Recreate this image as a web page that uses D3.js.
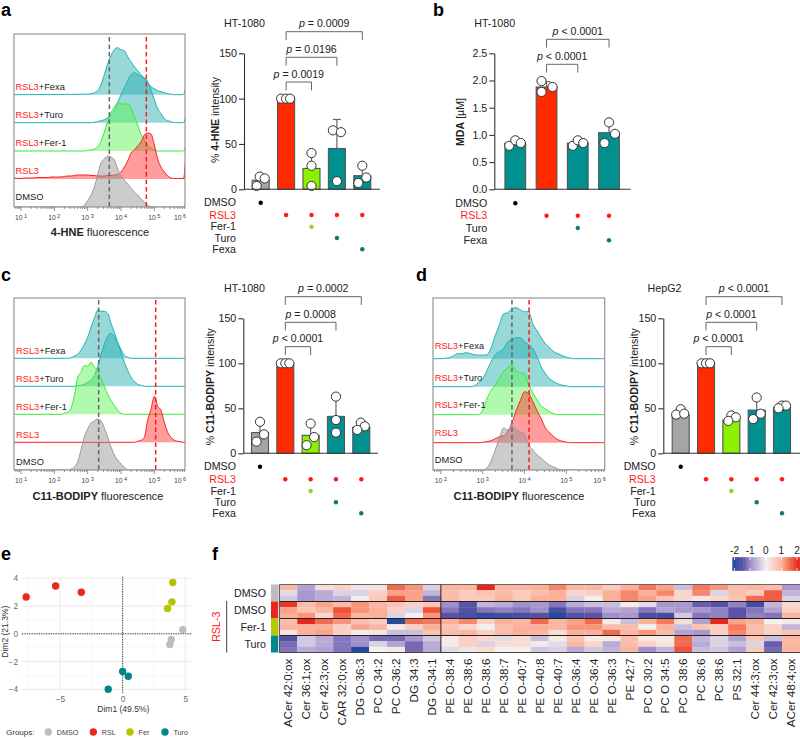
<!DOCTYPE html>
<html><head><meta charset="utf-8">
<script src="https://cdn.jsdelivr.net/npm/d3@7"></script>
<style>body{margin:0;background:#fff}svg{display:block;font-family:"Liberation Sans",Arial,sans-serif}</style>
</head><body><svg id="c" width="800" height="738"></svg>
<script>
// ---------- DATA ----------
const histNames=["RSL3+Fexa","RSL3+Turo","RSL3+Fer-1","RSL3","DMSO"];
// histogram heights (px-like counts) on a 0.1 log10 grid: [start log10, values]
const hneFexa=[3.0,[.5,1,2,4,10,20,31,39,45,47,45,44,38,33,28,24,20,16,12,8,6,4,3,2,1,.5,0]];
const hneTuro=[3.1,[0,.5,1,2,3,5,8,12,20,28,35,42,48,50,48,47,45,41,33,23,14,9,4,2,1,0]];
const hneFer=[2.9,[0,.5,1,2,4,10,19,30,38,44,48,47,47,47,43,34,26,17,11,6,3,1,0]];
const hneRsl=[0.8,[1,.5,.5,1,1,1,1,1.5,1.5,1.5,1.5,2,2,2,2,2.5,3,3,3.5,4,4,4,4,3.5,3.5,3,3,3,3.5,3.5,4,4.5,7,12,18,26,29,33,37,44,46,45,34,20,12,7,3,1,.5,.5,.5,1]];
const hneDmso=[2.8,[0,2,6,12,20,32,44,48,51,50,47,38,31,27,23,19,15,12,8,5,2,0]];
const hneSpike=[5,5,4,17,2];
const c11Fexa=[2.4,[0,.5,2,4,8,14,21,31,40,48,47,47,45,35,26,16,9,3,1,0]];
const c11Turo=[2.6,[0,.5,1,2,4,6,11,20,31,42,50,53,50,43,34,24,16,9,5,2,1,0]];
const c11Fer=[2.2,[0,1,2,6,18,37,42,49,48,52,47,44,36,28,20,14,9,4,1,0]];
const c11Rsl=[4.4,[0,1,2,5,22,33,46,36,32,20,10,5,2,1,.5,0]];
const c11Dmso=[2.4,[0,1,3,8,20,33,41,47,49,51,49,42,33,23,15,10,6,3,0]];
const hepFexa=[2.0,[0,.5,1,3,5,5,6,5,4,3.5,3.5,4,11,23,34,45,46,50,51,49,47,47,35,28,21,15,11,7,5,3,1.5,.5,0]];
const hepTuro=[2.7,[0,1,4,8,16,25,32,35,38,45,47,49,49,45,42,38,30,20,13,8,5,3,1.5,1,0]];
const hepFer=[2.9,[0,5,16,24,30,37,43,47,50,44,42,41,30,22,15,9,6,3,1,0]];
const hepRsl=[2.9,[0,.5,1,2,4,6,7,11,20,32,42,51,49,41,32,24,15,10,6,3,1.5,.5,0]];
const hepDmso=[3.0,[0,2,9,20,32,42,40,44,40,38,36,25,20,15,12,8,5,3,1,0]];
const markers={hne:[3.65,4.76],c11:[3.33,5.04],hep:[3.70,4.11]};

const barCats=["DMSO","RSL3","Fer-1","Turo","Fexa"];
const mdaCats=["DMSO","RSL3","Turo","Fexa"];
const hneMeans=[10,100,23,45,15];
const hneDots=[[3.7,14,12],[100,100,100],[40,26,3.7],[65,63,9],[26,13,7]];
const hneSd=[5.6,0,18,32,10];
const hnePvals=["= 0.0009","= 0.0196","= 0.0019"];
const mdaMeans=[.85,1.88,.85,1.04];
const mdaDots=[[.8,.9,.85],[1.99,1.88,1.79],[.8,.9,.85],[1.23,1.02,.85]];
const mdaSd=[.05,.1,.05,.19];
const mdaPvals=["< 0.0001","< 0.0001"];
const c11Means=[23,100,20,41,29];
const c11DotsVals=[[35,21,13],[100,100,100],[33,18,9],[63,37,23],[34,30,26]];
const c11Sd=[11,0,12,21,4];
const c11Pvals=["= 0.0002","= 0.0008","< 0.0001"];
const hepMeans=[43,100,37,48,51];
const hepDots=[[49,43,44],[100,100,100],[42,40,36],[62,44,38],[53,53,50]];
const hepSd=[3,0,3,13,2];
const hepPvals=["< 0.0001","< 0.0001","< 0.0001"];
// which row of the treatment matrix is filled for each bar
const hneRows=[[0],[1],[1,2],[1,3],[1,4]];
const mdaRows=[[0],[1],[1,2],[1,3]];

const pcaGroups=["DMSO","RSL","Fer","Turo"];
const pcaX=[[4.8,3.88,3.77],[-7.7,-5.35,-3.3],[4.0,3.93,3.58],[0,.45,-1.15]];
const pcaY=[[.3,-.4,-.77],[2.65,3.45,3.0],[3.7,2.3,1.83],[-2.72,-3.06,-4.0]];

const heatRows=["DMSO","DMSO","Fer-1","Turo"];
const lipids=["ACer 42:0;ox","Cer 36:1;ox","Cer 42:3;ox","CAR 32:0;ox","DG O-36:3","PC O 34:2","PC O-36:2","DG 34:3","DG O-34:1","PE O-38:4","PE O-38:6","PE O-38:6","PE O-38:7","PE O-40:7","PE O-40:8","PE O-40:7","PE O-36:4","PE O-36:4","PE O-36:3","PE 42:7","PC O 30:2","PC O 34:5","PC O 38:6","PC 36:6","PC 38:6","PS 32:1","Cer 44:3;ox","Cer 42:3;ox","ACer 48:4;ox"];
// one list per lipid, 12 replicates (3 per group)
const heatCols=[
[.9,-.2,-.4,1.9,1.1,1.0,.8,.9,.2,-1.6,-1.3,-1.2],
[-.8,-.9,-.9,.8,.7,1.2,2.0,1.0,1.0,-.4,-.4,-.7],
[.3,-.7,-.7,1.1,.9,.4,1.5,1.0,1.1,-.7,-.7,-.8],
[.5,-.3,-.6,.8,1.7,1.5,1.2,.5,.5,-1.2,-1.2,-1.2],
[-.1,-.3,-.05,1.2,1.2,.9,.8,1.1,-.05,-1,-1,-2],
[.2,.5,.6,.9,1.0,1.0,.6,.9,.2,-1.3,-.3,0],
[1.5,1.1,1.6,.7,.5,-.3,-2,.1,-.5,-1.3,-.8,.1],
[1.2,1.1,1.1,.5,-.3,0,1.5,.5,-.5,-.9,-1.3,-1.3],
[-.3,-.6,-1.2,.7,1.7,1.2,1.4,1.0,.7,-.4,-.7,-.7],
[.9,.8,.8,-1,-1.2,-1.5,1.0,.7,.8,.1,.1,-.2],
[.9,.6,.6,-1.5,-1.6,-1.7,1.3,.4,.9,.5,.5,-.1],
[2.0,.7,.6,-.6,-1.2,-1.9,.5,-.02,.5,.4,-.3,.3],
[.9,.8,.9,-.7,-1.1,-1.8,1.0,.8,.8,-.2,.3,0],
[.9,.6,.6,-1.0,-1.2,-1.7,.9,1.0,1.0,.3,.3,0],
[1.0,.8,1.0,-.9,-1.0,-1.6,1.5,1.0,.9,-.5,-.05,-.4],
[1.3,1.0,1.0,-1.2,-1.7,-2,.9,.9,.3,.1,-.2,-.3],
[.9,.4,-.3,-.7,-1.2,-1.6,1.1,1.2,1.0,.7,.9,-.7],
[.9,.5,0,-.5,-1.2,-1.5,1.5,1.2,1.0,.1,.4,-.4],
[.6,1.0,1.0,-.5,-.7,-1.0,.1,.8,1.5,.1,-.7,-.6],
[1.0,1.3,1.3,.1,-.8,-.9,-.5,.8,.9,.8,.8,.9],
[1.4,1.0,1.1,-.2,-1.2,-1.7,1.0,.05,1.2,.1,.5,-1.0],
[1.1,1.3,.7,-.9,-.8,-1.8,1.4,1.0,.8,.1,.2,-.6],
[-.5,.4,.4,-.9,-.9,-.4,.3,-.5,-.8,1.5,1.5,1.7],
[1.4,1.3,.1,-1.4,-.9,-1.2,-.8,.7,-.9,-.6,-.7,-.5],
[1.2,-.3,.4,-1.6,-1.1,-1.1,2.0,.5,.5,-.3,-.3,-.4],
[.8,.8,.7,-1.1,-1.5,-1.5,1.1,1.4,1.3,-.8,-.5,-.8],
[.9,.6,1.5,-1.8,-1.2,-1.1,1.0,.8,.8,.7,-.3,.6],
[.8,1.6,1.6,-.6,-.8,-1.2,0,.5,.5,-.5,-1.4,-1.3],
[-.9,-.6,-.3,.4,.5,.9,.1,-.6,.7,.9,.9,.9]];
const legendTicks=[-2,-1,0,1,2];

// ---------- STYLE / LAYOUT ----------
const svg=d3.select("#c");
const INK="#222";
const histStroke={Fexa:"#1fb2b6",Turo:"#1fb2b6",Fer:"#38ea3c",Rsl:"#ff1f1f",Dmso:"#9a9a9a"};
const histFill={Fexa:"#27adad",Turo:"#27adad",Fer:"#5cf252",Rsl:"#ff3030",Dmso:"#949494"};
const histKeys=["Fexa","Turo","Fer","Rsl","Dmso"];
const barFill={DMSO:"#a5a5a5",RSL3:"#ff2a00","Fer-1":"#8cf000",Turo:"#009090",Fexa:"#009090"};
const dotFill={DMSO:"#000",RSL3:"#ff1a1a","Fer-1":"#97cf35",Turo:"#0b7a7a",Fexa:"#0b7a7a"};

function txt(x,y,parts,o={}){
  const t=svg.append("text").attr("x",x).attr("y",y).attr("dy","0.35em")
    .attr("font-size",o.size||10.7).attr("fill",o.fill||INK).attr("text-anchor",o.anchor||"start");
  if(o.rot!=null)t.attr("transform",`rotate(${o.rot} ${x} ${y})`);
  (Array.isArray(parts)?parts:[parts]).forEach(p=>{
    if(typeof p==="string")t.append("tspan").text(p);
    else t.append("tspan").text(p.t).attr("fill",p.fill||null).attr("font-weight",p.b?"bold":null).attr("font-style",p.i?"italic":null);
  });
  return t;
}
function letter(s,x,y){svg.append("text").attr("x",x).attr("y",y).attr("font-size",18).attr("font-weight","bold").attr("fill","#000").text(s);}
letter("a",1,16);letter("b",433,16);letter("c",1,281);letter("d",416,281);letter("e",1,560);letter("f",212,560);

function histogram(L){
  const x=d3.scaleLog().domain([10**L.l0,10**L.l1]).range([L.x0,L.x1]);
  const h=d3.scaleLinear().domain([0,60]).range([0,60]);
  const id="clip"+L.x0+L.yTop;
  svg.append("clipPath").attr("id",id).append("rect").attr("x",L.x0).attr("y",L.yTop).attr("width",L.x1-L.x0).attr("height",L.yBot-L.yTop);
  const g=svg.append("g").attr("clip-path",`url(#${id})`);
  L.series.forEach((s,i)=>{
    const base=L.base[i],k=histKeys[i];
    const pts=s[1].map((v,j)=>[s[0]+j*.1,v]);
    const first=pts[0][0],last=pts[pts.length-1][0];
    const all=[[L.l0,first<=L.l0+.05?pts[0][1]:0]].concat(pts,last<5.85?[[5.85,0]]:[]);
    if(L.spike){all.push([5.88,.4],[5.93,L.spike[i]]);}else all.push([L.l1,0]);
    const gen=d3.area().x(d=>x(10**d[0])).y0(base).y1(d=>base-h(d[1])).curve(d3.curveMonotoneX);
    g.append("path").attr("d",gen(all)).attr("fill",histFill[k]).attr("fill-opacity",.48);
    g.append("path").attr("d",gen.lineY1()(all)).attr("fill","none").attr("stroke",histStroke[k]).attr("stroke-width",1);
  });
  svg.append("rect").attr("x",L.x0).attr("y",L.yTop).attr("width",L.x1-L.x0).attr("height",L.yBot-L.yTop).attr("fill","none").attr("stroke","#8a8a8a").attr("stroke-width",1.1);
  // dashed medians
  L.marks.forEach((m,i)=>svg.append("line").attr("x1",x(10**m)).attr("x2",x(10**m)).attr("y1",L.dashTop).attr("y2",L.yBot)
    .attr("stroke",i?"#ff1a1a":"#666").attr("stroke-width",1.5).attr("stroke-dasharray","4.5 3"));
  // log axis
  const ticks=x.ticks().filter(v=>v>=10**L.l0&&v<=10**L.l1);
  const ax=svg.append("g").attr("transform",`translate(0,${L.yBot})`);
  ticks.forEach(v=>{const lg=Math.log10(v),maj=Math.abs(lg-Math.round(lg))<1e-6;
    ax.append("line").attr("x1",x(v)).attr("x2",x(v)).attr("y1",0).attr("y2",maj?4:2).attr("stroke","#777").attr("stroke-width",.8);});
  L.decades.forEach(d=>{
    const cx=Math.min(x(10**d),L.x1-5);
    const t=svg.append("text").attr("x",cx).attr("y",L.yBot+13).attr("text-anchor","middle").attr("font-size",6.8).attr("fill","#444");
    t.append("tspan").text("10");
    t.append("tspan").text(d).attr("font-size",5.6).attr("dx",1.5).attr("dy",-2.5);
  });
  L.labels.forEach((n,i)=>{
    const parts=n.startsWith("RSL3")?[{t:"RSL3",fill:"#ff1a1a"},{t:n.slice(4)}]:[{t:n}];
    txt(L.labelX,L.labelY[i],parts,{size:9.3});
  });
  txt(L.titleX,L.titleY,[{t:L.title,b:1},{t:" fluorescence"}],{size:11,anchor:"middle"});
}
const seq=(p)=>histKeys.map(k=>p[k]);
histogram({x0:14,x1:185,l0:.79,l1:5.92,yTop:34,yBot:207,dashTop:37,
  base:[94.7,122.7,151,179,207],series:seq({Fexa:hneFexa,Turo:hneTuro,Fer:hneFer,Rsl:hneRsl,Dmso:hneDmso}),spike:hneSpike,
  marks:markers.hne,decades:[1,2,3,4,5,6],labels:histNames,labelX:15.5,labelY:[86.5,114.5,142.5,170.5,197],
  title:"4-HNE",titleX:100,titleY:232});
histogram({x0:14,x1:185,l0:.79,l1:5.92,yTop:298,yBot:470,dashTop:300,
  base:[358.3,386.3,414.3,442.3,470],series:seq({Fexa:c11Fexa,Turo:c11Turo,Fer:c11Fer,Rsl:c11Rsl,Dmso:c11Dmso}),
  marks:markers.c11,decades:[1,2,3,4,5,6],labels:histNames,labelX:16,labelY:[350.7,378.7,406.7,434.3,461.7],
  title:"C11-BODIPY",titleX:98,titleY:495.7});
histogram({x0:433,x1:604.7,l0:1.81,l1:5.92,yTop:298,yBot:470,dashTop:300,
  base:[358.7,386.7,414.7,442.7,470],series:seq({Fexa:hepFexa,Turo:hepTuro,Fer:hepFer,Rsl:hepRsl,Dmso:hepDmso}),
  marks:markers.hep,decades:[2,3,4,5,6],labels:histNames,labelX:434.7,labelY:[346,377.7,405,432.7,459.3],
  title:"C11-BODIPY",titleX:519,titleY:495.7});

function barPanel(L){
  const y=d3.scaleLinear().domain([0,L.max]).range([L.y0,L.y1]);
  const x=d3.scalePoint().domain(L.cats).range([L.cx0,L.cx1]);
  // bars
  L.means.forEach((m,i)=>{const c=L.cats[i],cx=x(c);
    const top=y(m+L.sd[i]);
    if(L.sd[i]>0){
      svg.append("line").attr("x1",cx).attr("x2",cx).attr("y1",top).attr("y2",y(m)).attr("stroke","#666").attr("stroke-width",1.2);
      svg.append("line").attr("x1",cx-4).attr("x2",cx+4).attr("y1",top).attr("y2",top).attr("stroke","#666").attr("stroke-width",1.2);
    }
    svg.append("rect").attr("x",cx-L.bw/2).attr("width",L.bw).attr("y",y(m)).attr("height",L.y0-y(m))
      .attr("fill",L.barColor?L.barColor(c):barFill[c]).attr("stroke","#555").attr("stroke-width",1.1);
  });
  L.dots.forEach((vals,i)=>vals.forEach((v,j)=>{
    svg.append("circle").attr("cx",x(L.cats[i])+L.dotDx[i][j]).attr("cy",y(v)).attr("r",4.6).attr("fill","#fff").attr("stroke","#333").attr("stroke-width",1);
  }));
  // axes
  const ax=svg.append("g").attr("transform",`translate(${L.ax},0)`).call(d3.axisLeft(y).tickValues(L.ticks).tickFormat(L.fmt||d3.format("d")).tickSize(5).tickSizeOuter(0).tickPadding(2));
  ax.selectAll("path,line").attr("stroke","#333").attr("stroke-width",1.1);
  ax.selectAll("text").attr("font-size",10.7).attr("fill",INK).attr("font-family","inherit");
  ax.attr("font-family",null);
  svg.append("line").attr("x1",L.ax).attr("x2",L.axEnd).attr("y1",L.y0).attr("y2",L.y0).attr("stroke","#333").attr("stroke-width",1.1);
  txt(L.titleX,L.titleY,L.title,{rot:-90,anchor:"middle",size:10.6});
  txt(L.cellX,L.cellY,L.cell,{anchor:"middle",size:10.7});
  // brackets
  L.brackets.forEach((b,i)=>{
    const a=x(L.cats[1]),e=x(L.cats[b]);
    svg.append("path").attr("d",d3.line()([[a,L.by[i]+8.3],[a,L.by[i]],[e,L.by[i]],[e,L.by[i]+8.3]])).attr("fill","none").attr("stroke","#666").attr("stroke-width",1);
    txt((a+e)/2,L.by[i]-8,[{t:"p",i:1},{t:" "+L.pvals[i]}],{anchor:"middle",size:10.6});
  });
  // treatment matrix
  L.rowNames.forEach((n,r)=>txt(L.rowX,L.rowY[r],n,{anchor:"end",fill:n==="RSL3"?"#ff1a1a":INK,size:10.7}));
  L.rows.forEach((rs,i)=>rs.forEach(r=>{
    svg.append("circle").attr("cx",x(L.cats[i])).attr("cy",L.rowY[r]).attr("r",2.2).attr("fill",dotFill[L.rowNames[r]]);
  }));
}
const dx5=[[-4,-1,4],[-5,0,4],[0,0,0],[-4,4,0],[0,4,-4]];
barPanel({cats:barCats,means:hneMeans,sd:hneSd,dots:hneDots,dotDx:dx5,max:150,ticks:[0,50,100,150],y0:189.3,y1:53.3,cx0:260.7,cx1:362.3,bw:17,ax:244,axEnd:380,
  title:[{t:"% "},{t:"4-HNE",b:1},{t:" intensity"}],titleX:215,titleY:120,cell:"HT-1080",cellX:244.5,cellY:23.3,
  brackets:[4,3,2],by:[31.7,57.3,82],pvals:hnePvals,rowNames:barCats,rowX:236,rowY:[202.7,215,226.7,238,249.3],rows:hneRows});
barPanel({cats:mdaCats,means:mdaMeans,sd:mdaSd,dots:mdaDots,dotDx:[[-6,0,5.5],[-5,6,-5],[-5,0,5.5],[0,6,-4.5]],max:2.5,ticks:[0,.5,1,1.5,2,2.5],fmt:d3.format(".1f"),
  barColor:c=>c==="RSL3"?"#ff2a00":"#009090",y0:189.3,y1:53.3,cx0:515.3,cx1:609,bw:20.7,ax:494.3,axEnd:630.7,
  title:[{t:"MDA",b:1},{t:" [µM]"}],titleX:460,titleY:122,cell:"HT-1080",cellX:494.7,cellY:23.3,
  brackets:[3,2],by:[39.3,64.3],pvals:mdaPvals,rowNames:["DMSO","RSL3","Turo","Fexa"],rowX:487.3,rowY:[203.3,215.7,228,240.3],rows:mdaRows});
barPanel({cats:barCats,means:c11Means,sd:c11Sd,dots:c11DotsVals,dotDx:[[0,4,-3.5],[-4.5,0,4],[0,3.5,-4],[0,0,0],[-.5,3.5,-4]],max:150,ticks:[0,50,100,150],y0:453.3,y1:318.3,cx0:260,cx1:361.3,bw:17,ax:243.3,axEnd:378,
  title:[{t:"% "},{t:"C11-BODIPY",b:1},{t:" intensity"}],titleX:210,titleY:386.7,cell:"HT-1080",cellX:244.5,cellY:288.7,
  brackets:[4,3,2],by:[296.7,322.3,346.7],pvals:c11Pvals,rowNames:barCats,rowX:236,rowY:[466.7,479.3,491,502.3,513.3],rows:hneRows});
barPanel({cats:barCats,means:hepMeans,sd:hepSd,dots:hepDots,dotDx:[[0,-4.5,3.5],[-4.5,0,4],[0,4.5,-3],[0,4,-3.5],[0,4,-3.5]],max:150,ticks:[0,50,100,150],y0:453.3,y1:318.3,cx0:680.7,cx1:782,bw:17,ax:663.3,axEnd:800,
  title:[{t:"% "},{t:"C11-BODIPY",b:1},{t:" intensity"}],titleX:634.7,titleY:386.7,cell:"HepG2",cellX:664.5,cellY:288.7,
  brackets:[4,3,2],by:[296.7,322.3,346.7],pvals:hepPvals,rowNames:barCats,rowX:655.7,rowY:[466.7,479.3,491,502.3,513.3],rows:hneRows});

// ---------- PCA ----------
(function(){
  const x=d3.scaleLinear().domain([-5,5]).range([60,185.3]);
  const y=d3.scaleLinear().domain([-4,4]).range([689.3,578.3]);
  const pcaColor=["#bdbdbd","#e8281e","#b5c400","#00868b"];
  const X0=22,X1=192,Y0=576.7,Y1=693;
  [-7.5,-2.5,2.5].forEach(v=>svg.append("line").attr("x1",x(v)).attr("x2",x(v)).attr("y1",Y0).attr("y2",Y1).attr("stroke","#f2f2f2").attr("stroke-width",.6));
  [-3,-1,1,3].forEach(v=>svg.append("line").attr("y1",y(v)).attr("y2",y(v)).attr("x1",X0).attr("x2",X1).attr("stroke","#f2f2f2").attr("stroke-width",.6));
  [-5,0,5].forEach(v=>svg.append("line").attr("x1",x(v)).attr("x2",x(v)).attr("y1",Y0).attr("y2",Y1).attr("stroke","#e8e8e8").attr("stroke-width",.9));
  [-4,-2,0,2,4].forEach(v=>svg.append("line").attr("y1",y(v)).attr("y2",y(v)).attr("x1",X0).attr("x2",X1).attr("stroke","#e8e8e8").attr("stroke-width",.9));
  svg.append("line").attr("x1",x(0)).attr("x2",x(0)).attr("y1",Y0).attr("y2",Y1).attr("stroke","#222").attr("stroke-width",.9).attr("stroke-dasharray","1.2 1.2");
  svg.append("line").attr("y1",y(0)).attr("y2",y(0)).attr("x1",X0).attr("x2",X1).attr("stroke","#222").attr("stroke-width",.9).attr("stroke-dasharray","1.2 1.2");
  const ax=svg.append("g").attr("transform",`translate(0,${Y1})`).call(d3.axisBottom(x).tickValues([-5,0,5]).tickSize(0).tickPadding(3));
  ax.select("path").remove();ax.selectAll("text").attr("font-size",8.3).attr("fill","#6a6a6a");ax.attr("font-family",null);
  const ay=svg.append("g").attr("transform",`translate(${X0-2},0)`).call(d3.axisLeft(y).tickValues([-4,-2,0,2,4]).tickSize(0).tickPadding(2));
  ay.select("path").remove();ay.selectAll("text").attr("font-size",8.3).attr("fill","#6a6a6a");ay.attr("font-family",null);
  pcaX.forEach((xs,g)=>xs.forEach((v,i)=>svg.append("circle").attr("cx",x(v)).attr("cy",y(pcaY[g][i])).attr("r",3.7).attr("fill",pcaColor[g])));
  txt(123.3,708.7,"Dim1 (49.5%)",{anchor:"middle",size:8.5,fill:"#333"});
  txt(5.5,631.7,"Dim2 (21.3%)",{anchor:"middle",rot:-90,size:8.5,fill:"#333"});
  txt(6,732,"Groups:",{size:8,fill:"#333"});
  const lx=d3.scalePoint().domain(pcaGroups).range([48.3,165]);
  const lpos=[48.3,93.3,130,165];
  pcaGroups.forEach((n,i)=>{
    svg.append("circle").attr("cx",lpos[i]).attr("cy",732).attr("r",3.7).attr("fill",pcaColor[i]);
    txt(lpos[i]+8.5,732,n,{size:7.2,fill:"#444"});
  });
})();

// ---------- HEATMAP ----------
(function(){
  const X0=279.3,X1=800,Y0=584.5,Y1=652.5;
  const cx=d3.scaleBand().domain(d3.range(lipids.length)).range([X0,X1]);
  const cy=d3.scaleBand().domain(d3.range(12)).range([Y0,Y1]);
  const color=d3.scaleLinear().domain([-2,-1.5,-1,0,1,1.5,2]).range(["#264b9e","#5b52a6","#a08fca","#f4f0ef","#fbb09a","#f26a4f","#e8261c"]).interpolate(d3.interpolateLab).clamp(true);
  heatCols.forEach((col,c)=>col.forEach((v,r)=>{
    svg.append("rect").attr("x",cx(c)).attr("y",cy(r)).attr("width",cx.bandwidth()+.2).attr("height",cy.bandwidth()+.2).attr("fill",color(v));
  }));
  const stripC=["#bdbdbd","#e8281e","#b5c800","#00888c"];
  const gh=(Y1-Y0)/4;
  heatRows.forEach((n,i)=>{
    svg.append("rect").attr("x",271).attr("y",Y0+i*gh).attr("width",7).attr("height",gh).attr("fill",stripC[i]);
    txt(266,Y0+(i+.5)*gh,n,{anchor:"end",size:10.7});
    svg.append("line").attr("x1",X0).attr("x2",X1).attr("y1",Y0+i*gh).attr("y2",Y0+i*gh).attr("stroke",i?"#222":"#666").attr("stroke-width",1);
  });
  svg.append("line").attr("x1",X0).attr("x2",X1).attr("y1",Y1).attr("y2",Y1).attr("stroke","#444").attr("stroke-width",1);
  svg.append("line").attr("x1",X0).attr("x2",X0).attr("y1",Y0).attr("y2",Y1).attr("stroke","#444").attr("stroke-width",1);
  svg.append("line").attr("x1",cx(9)).attr("x2",cx(9)).attr("y1",Y0).attr("y2",Y1).attr("stroke","#222").attr("stroke-width",1);
  lipids.forEach((n,c)=>txt(cx(c)+cx.bandwidth()/2,658.5,n,{rot:-90,anchor:"end",size:11.8}));
  txt(216.7,626.7,"RSL-3",{rot:-90,anchor:"middle",size:10.7,fill:"#ff1a1a"});
  svg.append("line").attr("x1",226.7).attr("x2",226.7).attr("y1",601).attr("y2",652.5).attr("stroke","#444").attr("stroke-width",1);
  // colour key
  const k=d3.scaleLinear().domain([-2,2]).range([734.5,797]);
  const ks=k.copy().domain([-2.15,2.2]).range([732.3,800]);
  d3.range(-2.15,2.2,.05).forEach(v=>svg.append("rect").attr("x",ks(v)).attr("y",557.3).attr("width",1.3).attr("height",13.4).attr("fill",color(v)));
  legendTicks.forEach(v=>{
    svg.append("line").attr("x1",k(v)).attr("x2",k(v)).attr("y1",557.3).attr("y2",560).attr("stroke","#fff").attr("stroke-width",.8);
    svg.append("line").attr("x1",k(v)).attr("x2",k(v)).attr("y1",568).attr("y2",570.7).attr("stroke","#fff").attr("stroke-width",.8);
    txt(k(v),550.7,String(v).replace("-","-"),{anchor:"middle",size:10});
  });
})();
</script></body></html>
